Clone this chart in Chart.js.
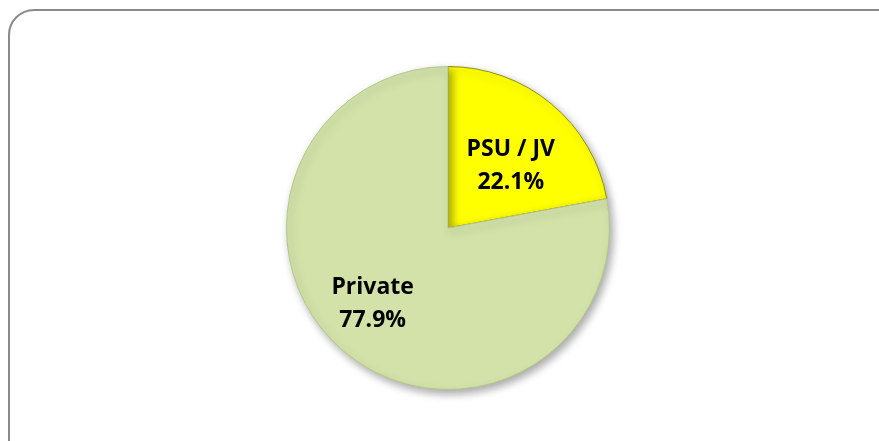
<!DOCTYPE html>
<html>
<head>
<meta charset="utf-8">
<script src="https://cdn.jsdelivr.net/npm/chart.js@4.4.0/dist/chart.umd.min.js"></script>
<style>
  html, body { margin: 0; padding: 0; background: #fff; overflow: hidden; }
  #wrap { position: relative; width: 879px; height: 441px; overflow: hidden; }
  #frame {
    position: absolute; left: 8px; top: 9px; width: 900px; height: 460px;
    border: 2px solid #8a8a8a; border-radius: 26px; box-sizing: border-box;
  }
  canvas { position: absolute; left: 0; top: 0; }
</style>
</head>
<body>
<div id="wrap">
  <div id="frame"></div>
  <canvas id="pie" width="879" height="441"></canvas>
</div>
<script>
// chart data
const labels = ['PSU / JV', 'Private'];
const shares = [22.1, 77.9];
const colors = ['#FFFF00', '#D2E2A8'];
const edgeColors = ['#8f8f10', '#b3c78a'];
// how far out from the centre each label sits (fraction of radius)
const labelRadius = [0.55, 0.66];
const labelTurn = 5.2 * Math.PI / 180; // Excel's best-fit nudges both labels a bit clockwise

// soft drop shadow under the pie, like the Excel original
const shadowPlugin = {
  id: 'pieShadow',
  beforeDatasetsDraw(chart) {
    const ctx = chart.ctx;
    ctx.save();
    ctx.shadowColor = 'rgba(0,0,0,0.35)';
    ctx.shadowBlur = 8;
    ctx.shadowOffsetX = 3;
    ctx.shadowOffsetY = 4;
  },
  afterDatasetsDraw(chart) {
    chart.ctx.restore();
  }
};

// two-line label (name + percent) inside each slice
const sliceLabels = {
  id: 'sliceLabels',
  afterDraw(chart) {
    const ctx = chart.ctx;
    const meta = chart.getDatasetMeta(0);
    ctx.save();
    ctx.fillStyle = '#000';
    ctx.font = 'bold 23px "Open Sans", sans-serif';
    ctx.textAlign = 'center';
    ctx.textBaseline = 'middle';
    meta.data.forEach((arc, i) => {
      const p = arc.getProps(['x', 'y', 'startAngle', 'endAngle', 'outerRadius'], true);
      const mid = (p.startAngle + p.endAngle) / 2 + labelTurn;
      const r = p.outerRadius * labelRadius[i];
      const x = p.x + Math.cos(mid) * r;
      const y = p.y + Math.sin(mid) * r;
      ctx.fillText(labels[i], x, y - 16);
      ctx.fillText(shares[i].toFixed(1) + '%', x, y + 17);
    });
    ctx.restore();
  }
};

new Chart(document.getElementById('pie'), {
  type: 'pie',
  data: {
    labels: labels,
    datasets: [{
      data: shares,
      backgroundColor: colors,
      borderColor: edgeColors,
      borderWidth: 1
    }]
  },
  options: {
    responsive: false,
    animation: false,
    layout: { padding: { left: 17, right: 0, top: 66, bottom: 51 } },
    plugins: {
      legend: { display: false },
      tooltip: { enabled: false }
    }
  },
  plugins: [shadowPlugin, sliceLabels]
});
</script>
</body>
</html>
